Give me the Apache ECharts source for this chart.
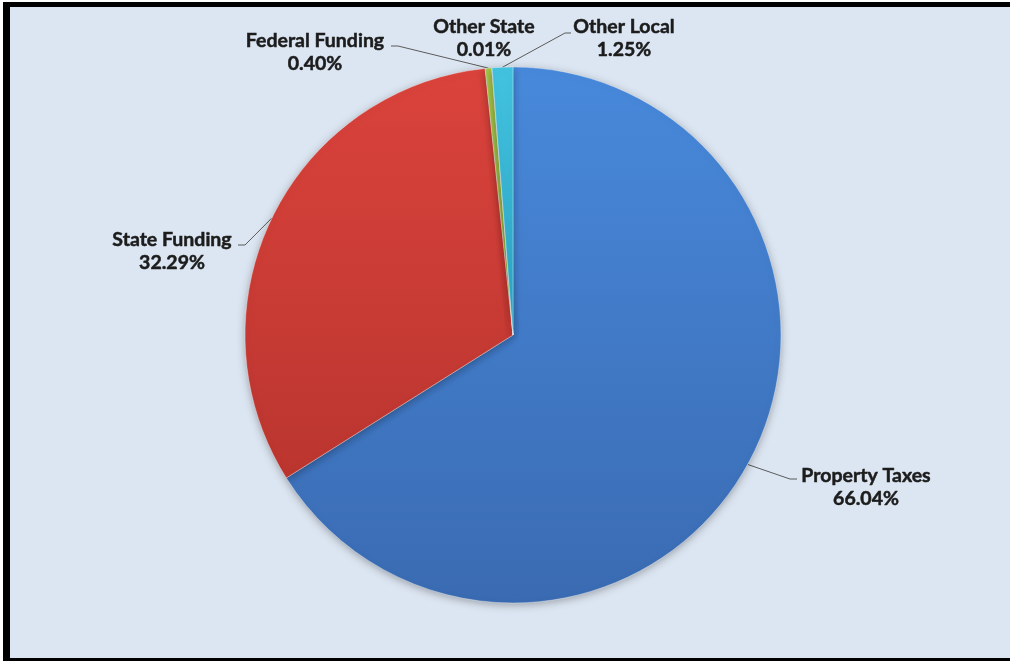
<!DOCTYPE html>
<html><head><meta charset="utf-8">
<script src="https://cdn.jsdelivr.net/npm/echarts@6/dist/echarts.min.js"></script>
<style>
html,body{margin:0;padding:0;background:#fff;width:1010px;height:661px;overflow:hidden;}
#frame{position:absolute;left:3px;top:2px;width:1040px;height:700px;background:#000;}
#panel{position:absolute;left:10px;top:7px;width:1030px;height:651px;background:#dce6f2;}
#chart{position:absolute;left:0;top:0;width:1010px;height:661px;}
</style></head><body>
<div id="frame"></div><div id="panel"></div><div id="chart"></div>
<script>
// Revenue sources, percent of total
const categories = ['Property Taxes', 'State Funding', 'Federal Funding', 'Other State', 'Other Local'];
const shares = [66.04, 32.29, 0.40, 0.01, 1.25];

// slice fills: [top colour, bottom colour]
const sliceColors = [
  ['#4889db', '#3a6bb2'],
  ['#da433c', '#bb352f'],
  ['#a9c94c', '#8fae3c'],
  ['#8064a2', '#6a4f8c'],
  ['#43c3e0', '#2aa3c2']
];

// pie geometry (px)
const CX = 513, CY = 335, R = 268;

// label block centres and leader-line elbows (px)
const labelCenters = [[866, 487], [172, 251], [315, 52], [484, 38], [624, 38]];
const leaderElbows = [
  [[790, 479], [797, 479]],
  [[245, 245], [238, 245]],
  [[398, 46], [391, 46]],
  null,
  [[565, 33], [571, 33]]
];

const total = shares.reduce((a, b) => a + b, 0);
function edgePoint(i) {
  let before = 0;
  for (let k = 0; k < i; k++) before += shares[k];
  const mid = (before + shares[i] / 2) / total * Math.PI * 2; // clockwise from 12 o'clock
  return [CX + R * Math.sin(mid), CY - R * Math.cos(mid)];
}

const chart = echarts.init(document.getElementById('chart'), null, { renderer: 'canvas' });
chart.setOption({
  animation: false,
  backgroundColor: 'transparent',
  series: [{
    type: 'pie',
    center: [CX, CY],
    radius: R,
    startAngle: 90,
    clockwise: true,
    avoidLabelOverlap: false,
    emphasis: { disabled: true },
    data: categories.map((name, i) => ({
      name: name,
      value: shares[i],
      itemStyle: {
        color: new echarts.graphic.LinearGradient(0, 0, 0, 1, [
          { offset: 0, color: sliceColors[i][0] },
          { offset: 1, color: sliceColors[i][1] }
        ]),
        borderColor: 'rgba(255,255,255,0.35)',
        borderWidth: 1,
        shadowBlur: 8,
        shadowOffsetY: 2,
        shadowColor: 'rgba(0,0,0,0.3)'
      },
      labelLine: { show: leaderElbows[i] !== null }
    })),
    label: {
      show: true,
      position: 'outside',
      formatter: p => p.name + '\n' + p.value.toFixed(2) + '%',
      fontFamily: 'Lato',
      fontWeight: 'bold',
      fontSize: 19.5,
      lineHeight: 23,
      color: '#1c1c1c',
      textBorderColor: '#1c1c1c',
      textBorderWidth: 0.5
    },
    labelLine: {
      show: true,
      lineStyle: { color: '#5a5a5a', width: 1 }
    },
    labelLayout: function (params) {
      const i = params.dataIndex;
      const out = {
        x: labelCenters[i][0],
        y: labelCenters[i][1],
        align: 'center',
        verticalAlign: 'middle'
      };
      if (leaderElbows[i]) {
        out.labelLinePoints = [edgePoint(i), leaderElbows[i][0], leaderElbows[i][1]];
      }
      return out;
    }
  }]
});
</script>
</body></html>
